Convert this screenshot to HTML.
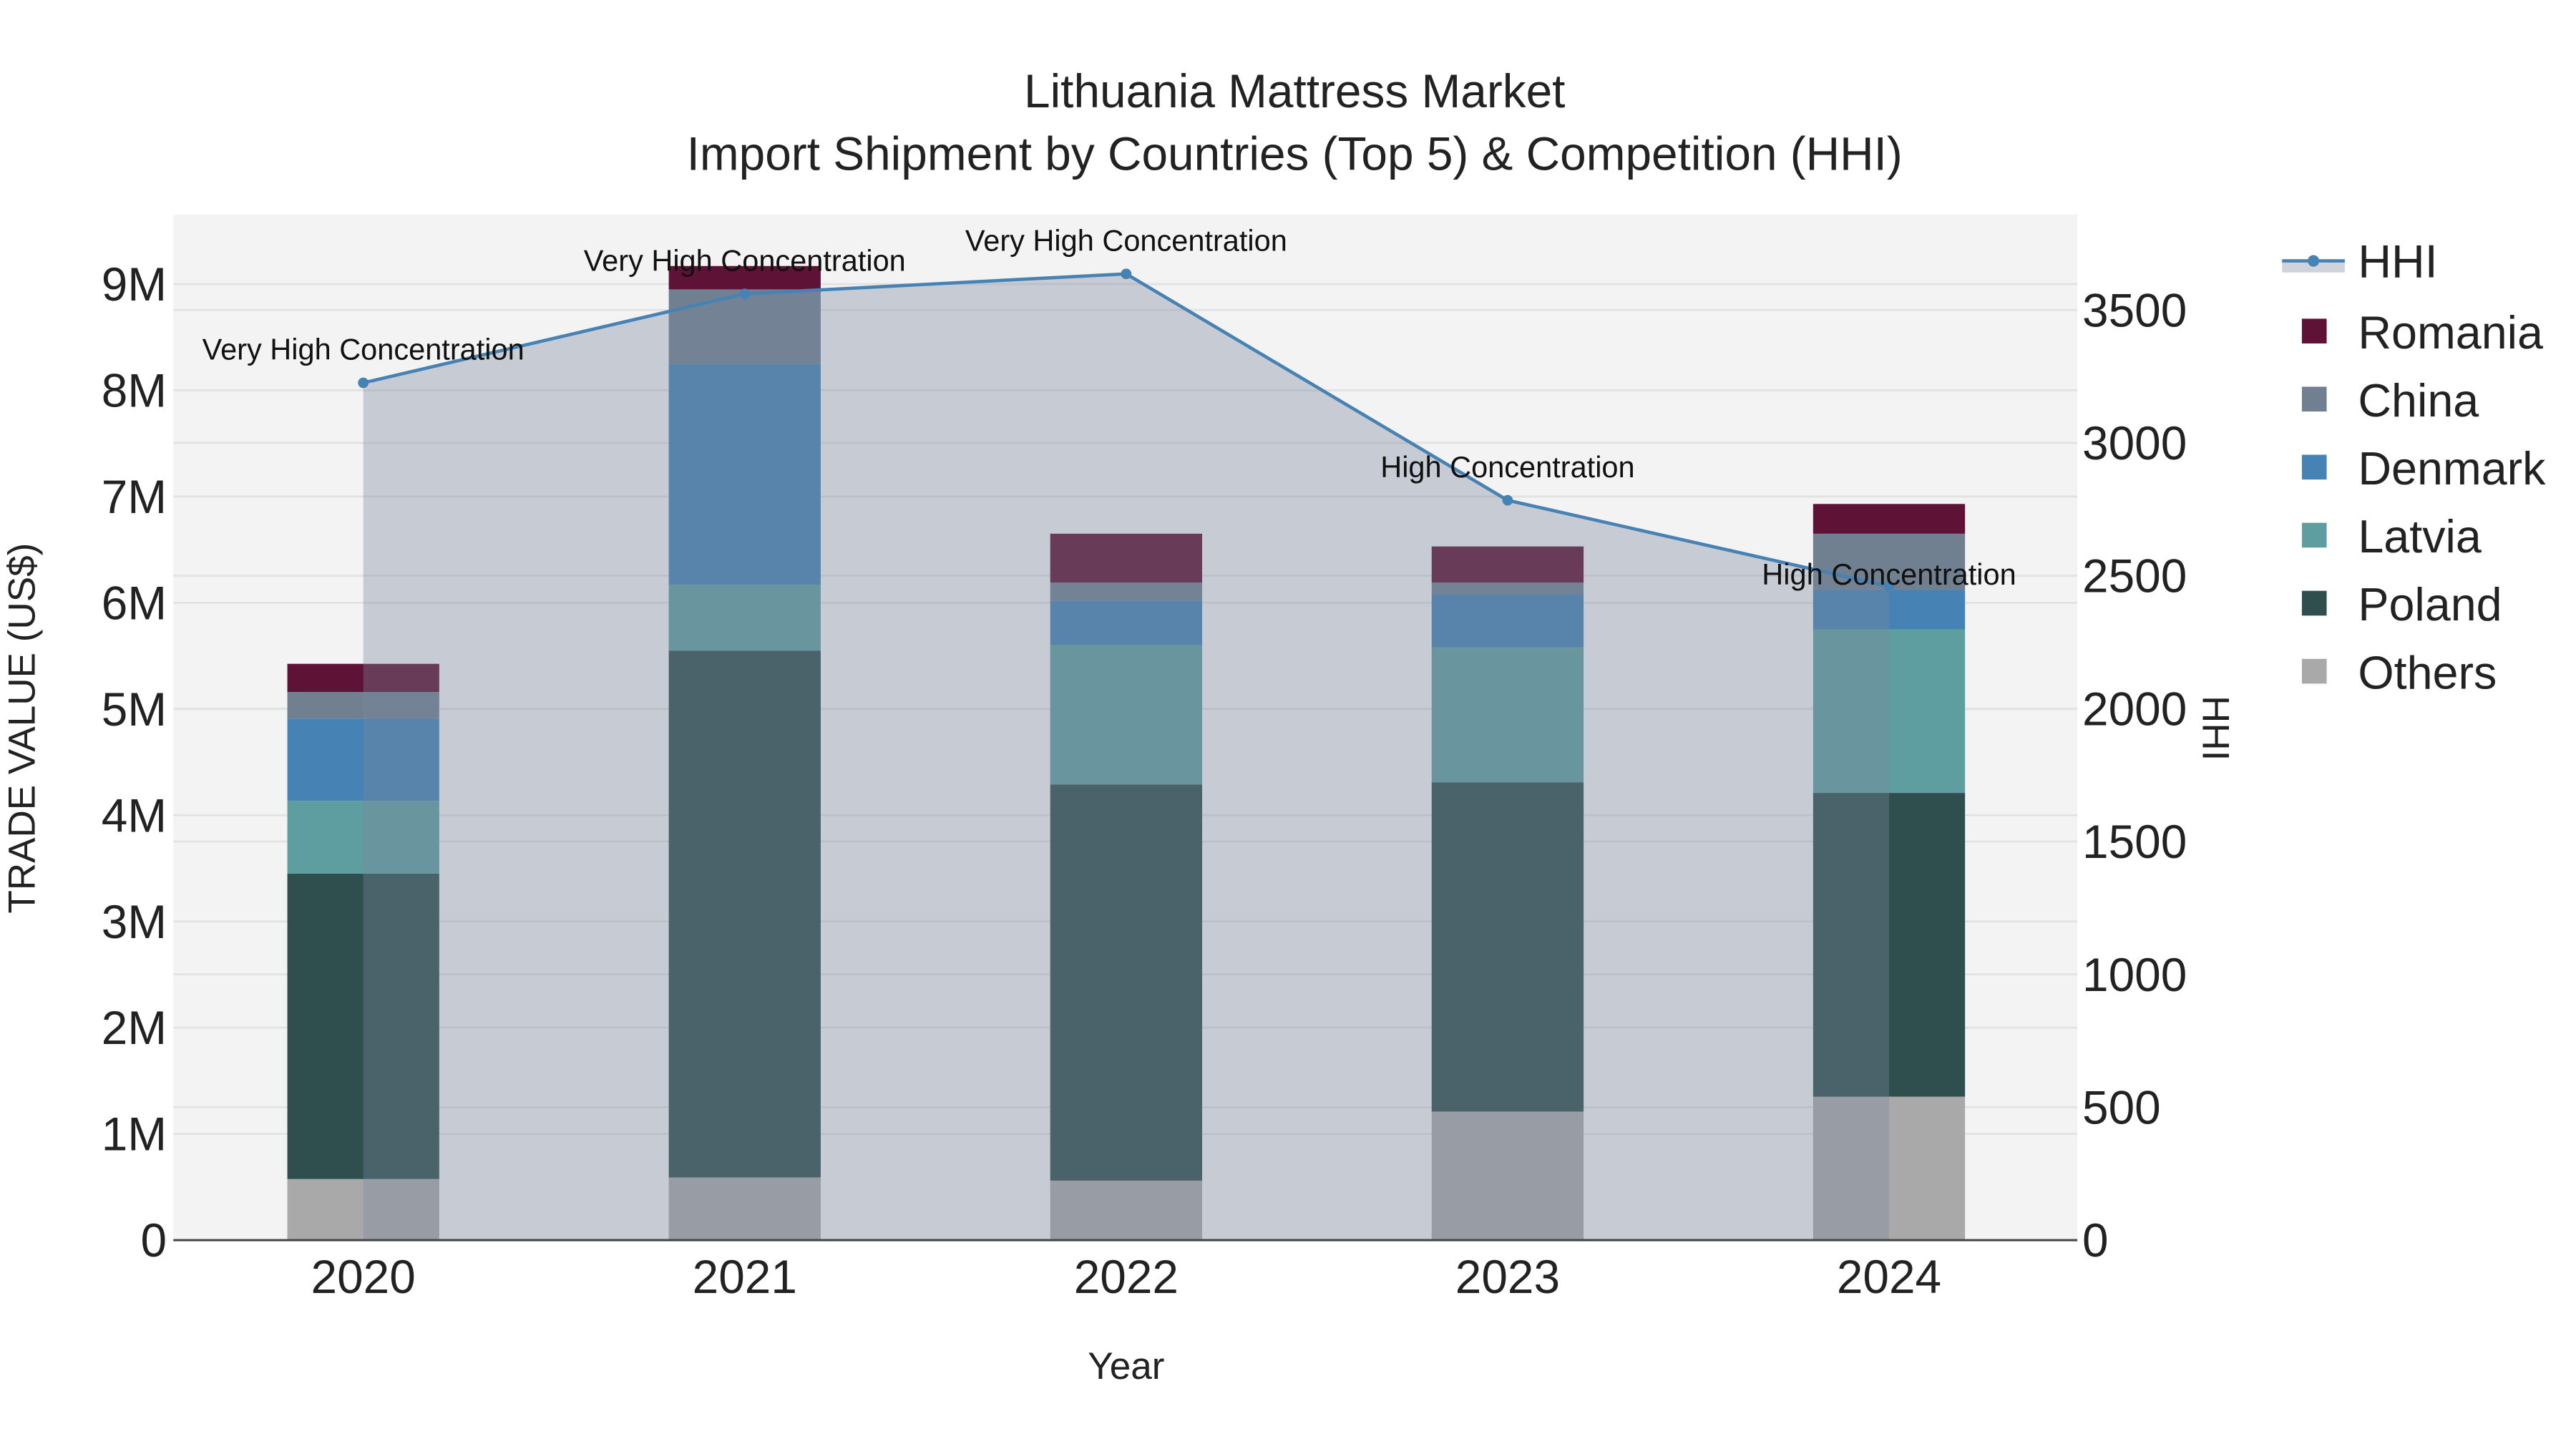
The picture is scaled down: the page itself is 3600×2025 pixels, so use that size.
<!DOCTYPE html>
<html><head><meta charset="utf-8"><style>
html,body{margin:0;padding:0;background:#fff;}
svg{display:block;font-family:"Liberation Sans",Arial,sans-serif;}
</style></head><body>
<svg id="chart" width="3600" height="2025" viewBox="0 0 1560 877.5" xmlns="http://www.w3.org/2000/svg">
<rect x="0" y="0" width="1560" height="877.5" fill="#fff"/>
<text x="784" y="65" text-anchor="middle" font-size="28.5" fill="#222">Lithuania Mattress Market</text>
<text x="784" y="103" text-anchor="middle" font-size="28.5" fill="#222">Import Shipment by Countries (Top 5) &amp; Competition (HHI)</text>
<rect x="105" y="130" width="1153" height="621" fill="#f3f3f3"/>
<g id="grid"></g>
<g id="bars"></g>
<g id="area"></g>
<g id="line"></g>
<g id="ann"></g>
<line x1="105" y1="751" x2="1258" y2="751" stroke="#444" stroke-width="1.3"/>
<g id="axes"></g>
<text x="682" y="835" text-anchor="middle" font-size="23" fill="#222">Year</text>
<text transform="translate(21,441) rotate(-90)" text-anchor="middle" font-size="23" fill="#222">TRADE VALUE (US$)</text>
<text transform="translate(1334,441) rotate(90)" text-anchor="middle" font-size="23" fill="#222">HHI</text>
<g id="legend"></g>
</svg>
<script>
const years = ["2020","2021","2022","2023","2024"];
const seriesNames = ["Others","Poland","Latvia","Denmark","China","Romania"];
const others  = [0.575, 0.59, 0.56, 1.21, 1.35];
const poland  = [2.875, 4.96, 3.73, 3.10, 2.86];
const latvia  = [0.685, 0.62, 1.31, 1.27, 1.54];
const denmark = [0.775, 2.08, 0.42, 0.50, 0.37];
const china   = [0.25, 0.70, 0.17, 0.11, 0.53];
const romania = [0.265, 0.22, 0.46, 0.34, 0.28];
const hhi = [3226, 3561, 3636, 2784, 2460];
const hhiLabels = ["Very High Concentration","Very High Concentration","Very High Concentration","High Concentration","High Concentration"];
const yTicks = [0,1,2,3,4,5,6,7,8,9];
const yTickLabels = ["0","1M","2M","3M","4M","5M","6M","7M","8M","9M"];
const y2Ticks = [0,500,1000,1500,2000,2500,3000,3500];

const NS="http://www.w3.org/2000/svg";
const colors={Others:"#a9a9a9",Poland:"#2f4f4f",Latvia:"#5f9ea0",Denmark:"#4682b4",China:"#708090",Romania:"#5e1235"};
const seriesData=[others,poland,latvia,denmark,china,romania];
function x(i){return 220+i*231;}
function y(v){return 751-v*64.33;}
function y2(v){return 751-v*0.16093;}
function mk(tag,attrs,parent){const e=document.createElementNS(NS,tag);for(const k in attrs)e.setAttribute(k,attrs[k]);parent.appendChild(e);return e;}
const grid=document.getElementById('grid'),bars=document.getElementById('bars'),area=document.getElementById('area'),line=document.getElementById('line'),ann=document.getElementById('ann'),axes=document.getElementById('axes'),legend=document.getElementById('legend');
yTicks.forEach((t,i)=>{
  if(t>0){const l=mk('line',{x1:105,x2:1258,y1:y(t),y2:y(t),stroke:'#e2e2e2','stroke-width':1.2},grid);
  
  }
  const tx=mk('text',{x:101,y:y(t)+10,'text-anchor':'end','font-size':28.5,fill:'#222'},axes);tx.textContent=yTickLabels[i];
  
  
});
y2Ticks.forEach(t=>{
  if(t>0){const l=mk('line',{x1:105,x2:1258,y1:y2(t),y2:y2(t),stroke:'#e2e2e2','stroke-width':1.2},grid);
  
  }
  const tx=mk('text',{x:1261,y:y2(t)+10,'font-size':28.5,fill:'#222'},axes);tx.textContent=String(t);
  
  
});
years.forEach((yr,i)=>{
  const tx=mk('text',{x:x(i),y:783,'text-anchor':'middle','font-size':28.5,fill:'#222'},axes);tx.textContent=yr;
  
  
  let base=0;
  seriesData.forEach((arr,s)=>{
    const v=arr[i];
    const r=mk('rect',{x:x(i)-46,width:92,y:y(base+v),height:y(base)-y(base+v),fill:colors[seriesNames[s]]},bars);
    
    
    base+=v;
  });
});
let d='M'+x(0)+','+y2(0);
hhi.forEach((v,i)=>{d+=' L'+x(i)+','+y2(v);});
d+=' L'+x(hhi.length-1)+','+y2(0)+' Z';
const ap=mk('path',{d:d,fill:'rgb(123,133,156)','fill-opacity':0.36},area);


const pl=mk('polyline',{points:hhi.map((v,i)=>x(i)+','+y2(v)).join(' '),fill:'none',stroke:'#4682b4','stroke-width':2},line);


hhi.forEach((v,i)=>{
  const c=mk('circle',{cx:x(i),cy:y2(v),r:3.2,fill:'#4682b4'},line);
  
  
  const off=(i===hhi.length-1)?-1:-14;
  const t=mk('text',{x:x(i),y:y2(v)+off,'text-anchor':'middle','font-size':18,fill:'#111'},ann);t.textContent=hhiLabels[i];
  
  
});
const lgHHI=mk('g',{},legend);


mk('rect',{x:1382,y:158,width:38,height:7,fill:'rgb(123,133,156)','fill-opacity':0.36},lgHHI);
mk('line',{x1:1382,x2:1420,y1:158,y2:158,stroke:'#4682b4','stroke-width':2},lgHHI);
mk('circle',{cx:1401,cy:158,r:3.5,fill:'#4682b4'},lgHHI);
const th=mk('text',{x:1428,y:168,'font-size':28,fill:'#222'},lgHHI);th.textContent='HHI';
const order=["Romania","China","Denmark","Latvia","Poland","Others"];
order.forEach((n,k)=>{
  const cy=201+k*41.2;
  const g=mk('g',{},legend);
  
  
  mk('rect',{x:1394,y:cy-8,width:15,height:15,fill:colors[n]},g);
  const t=mk('text',{x:1428,y:cy+10,'font-size':28,fill:'#222'},g);t.textContent=n;
});
</script>
</body></html>
